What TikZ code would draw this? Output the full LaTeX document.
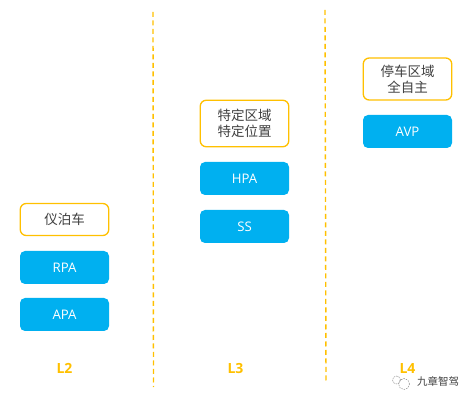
\documentclass[tikz,border=0pt]{standalone}
\usepackage{fontspec}
\setmainfont{Open Sans}
\newfontfamily\cjk{Noto Sans CJK SC}
\definecolor{amber}{HTML}{FFC000}
\definecolor{sky}{HTML}{00B0F0}
\definecolor{ink}{HTML}{404040}
\tikzset{
  every node/.style={inner sep=0pt,outer sep=0pt},
  framebox/.style={draw=amber,line width=1.3pt,rounded corners=6pt,fill=white,align=center,text=ink,minimum width=88.5pt,font=\cjk\fontsize{13.5}{16}\selectfont},
  fillbox/.style={fill=sky,rounded corners=5pt,text=white,minimum width=89pt,minimum height=33pt,font=\fontsize{13.2}{15}\selectfont},
  level/.style={text=amber,font=\bfseries\fontsize{14}{16}\selectfont},
  divider/.style={draw=amber,line width=1.4pt,dash pattern=on 5pt off 3.5pt},
  mark text/.style={text=ink,font=\cjk\fontsize{10.5}{12}\selectfont}
}
\begin{document}
\begin{tikzpicture}[x=1pt,y=-1pt]
\useasboundingbox (0,0) rectangle (474,403);
\node[framebox,minimum height=32pt] (a0) at (64.5,219.5) {仪泊车};
\node[fillbox] (a1) at (64.5,267.5) {RPA};
\node[fillbox] (a2) at (64.5,314.5) {APA};
\node[level] (l2) at (64.5,368.5) {L2};
\node[framebox,minimum height=46.5pt] (b0) at (244.5,123.5) {特定区域\\特定位置};
\node[fillbox] (b1) at (244.5,178.5) {HPA};
\node[fillbox] (b2) at (244.5,226.5) {SS};
\node[level] (l3) at (235.5,368.5) {L3};
\node[framebox,minimum height=42pt] (c0) at (407.5,79) {停车区域\\全自主};
\node[fillbox] (c1) at (407.5,131.5) {AVP};
\node[level] (l4) at (407.5,368.5) {L4};
\coordinate (d1a) at (153,12);
\coordinate (d1b) at (153.5,387);
\coordinate (d2a) at (325,10);
\coordinate (d2b) at (326,382);
\draw[divider] (d1a) -- (d1b);
\draw[divider] (d2a) -- (d2b);
\node[mark text] (wm) at (438,381) {九章智驾};
\draw[ink!70,line width=0.4pt,dash pattern=on 1.5pt off 1pt] (396.5,380) circle (4pt);
\draw[ink!70,line width=0.4pt,dash pattern=on 1.5pt off 1pt] (404,384) circle (5.5pt);
\end{tikzpicture}
\end{document}
